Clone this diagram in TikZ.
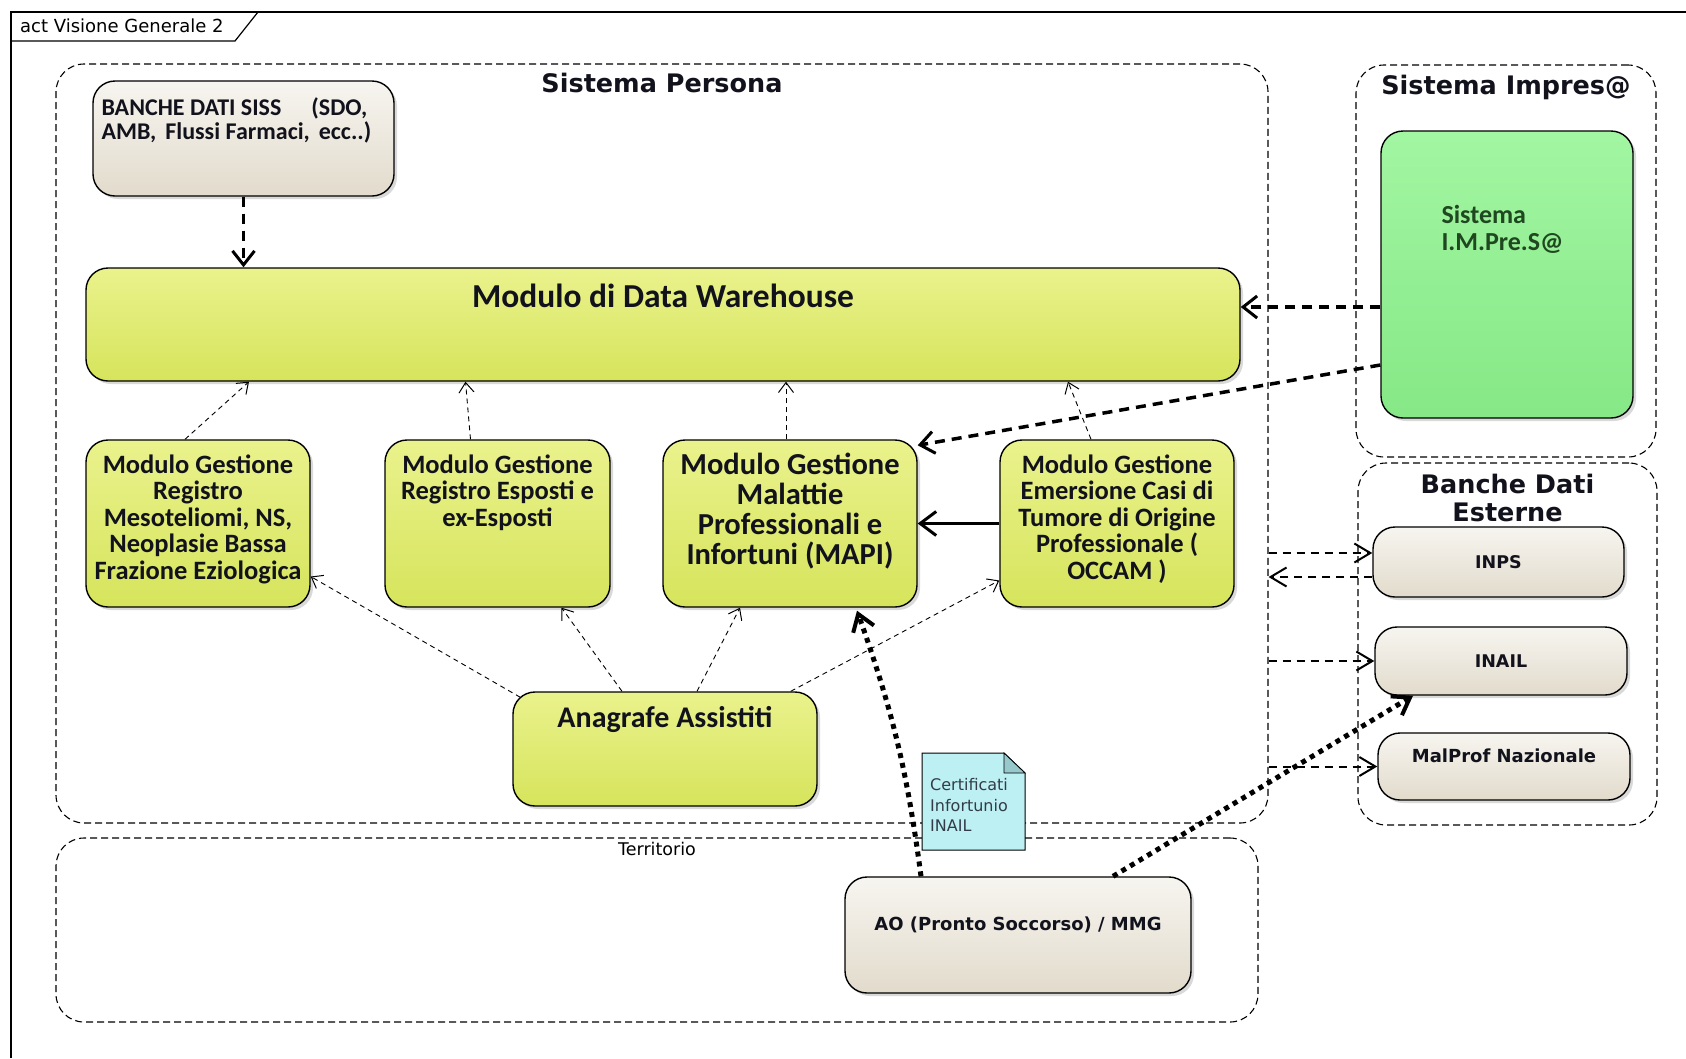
\documentclass[tikz,border=0pt]{standalone}
\usepackage{fontspec}
\setmainfont{DejaVu Sans}
\newfontfamily\calibri{Carlito}
\usepackage{tikz}
\usetikzlibrary{positioning,fit,shadows,arrows.meta,calc}

\definecolor{giallo}{RGB}{214,228,92}
\definecolor{giallochiaro}{RGB}{234,242,140}
\definecolor{beige}{RGB}{226,219,204}
\definecolor{beigechiaro}{RGB}{247,245,240}
\definecolor{verde}{RGB}{134,232,134}
\definecolor{verdechiaro}{RGB}{162,246,162}
\definecolor{azzurro}{RGB}{188,240,242}
\definecolor{azzurroscuro}{RGB}{150,200,204}
\definecolor{verdescuro}{RGB}{32,72,32}
\definecolor{inchiostro}{RGB}{18,18,28}
\definecolor{notatesto}{RGB}{50,60,72}

\tikzset{
  contenitore/.style={draw, line width=1.1pt, dash pattern=on 7pt off 4pt, rounded corners=28pt, inner sep=0pt},
  modulo/.style={draw, line width=1.4pt, rounded corners=22pt, inner sep=0pt,
    top color=giallochiaro, bottom color=giallo,
    drop shadow={shadow xshift=3pt, shadow yshift=-3pt, opacity=0.3}},
  banca/.style={modulo, top color=beigechiaro, bottom color=beige},
  sistema/.style={modulo, top color=verdechiaro, bottom color=verde},
  testomod/.style={font=\calibri\bfseries\fontsize{26.5}{26.6}\selectfont, text=inchiostro, align=center, inner sep=0pt},
  titolo/.style={font=\bfseries\fontsize{25.5}{28.5}\selectfont, text=inchiostro, align=center, inner sep=0pt},
  testobanca/.style={font=\bfseries\fontsize{17.5}{21}\selectfont, text=inchiostro, inner sep=0pt},
  dip/.style={line width=0.9pt, dash pattern=on 5pt off 4pt, -{Straight Barb[length=10pt,width=15pt,line width=1pt]}},
  flusso/.style={line width=3.5pt, dash pattern=on 10pt off 7pt, -{Straight Barb[length=14pt,width=22pt,line width=3pt]}},
  puntini/.style={line width=5pt, dash pattern=on 5pt off 5pt, -{Straight Barb[length=16pt,width=22pt,line width=4pt]}},
  scambio/.style={line width=2pt, dash pattern=on 8pt off 6pt, -{Straight Barb[length=16pt,width=19pt,line width=2pt]}},
  chiamata/.style={line width=3pt, -{Straight Barb[length=16pt,width=24pt,line width=3pt]}},
}

\begin{document}
\begin{tikzpicture}[x=1pt, y=-1pt]
  \useasboundingbox (0,0) rectangle (1686,1058);

  % Cornice
  \draw[line width=1.5pt] (11,1058) -- (11,12) -- (1686,12);
  \draw[line width=1.2pt] (11,41) -- (235,41) -- (258,12);
  \node[font=\fontsize{18}{20}\selectfont, anchor=west, inner sep=0pt] (cornice) at (20,26) {act Visione Generale 2};

  % Contenitori
  \node[contenitore, fit={(56,64) (1268,823)}] (persona) {};
  \node[titolo, below=9pt of persona.north] (titpersona) {Sistema Persona};
  \node[contenitore, fit={(1356,65) (1656,457)}] (impres) {};
  \node[titolo, below=10pt of impres.north] (titimpres) {Sistema Impres@};
  \node[contenitore, fit={(1358,463) (1657,825)}] (esterne) {};
  \node[titolo, below=11pt of esterne.north] (titesterne) {Banche Dati\\Esterne};
  \node[contenitore, fit={(56,838) (1258,1022)}] (territorio) {};
  \node[font=\fontsize{17.5}{20}\selectfont, inner sep=0pt, below=5pt of territorio.north] (titterritorio) {Territorio};

  % Sistema Persona
  \node[banca, fit={(93,81) (394,196)}] (siss) {};
  \node[testomod, font=\calibri\bfseries\fontsize{24}{24}\selectfont, align=left, anchor=north west] (sisst)
    at ([shift={(9pt,-17pt)}]siss.north west) {BANCHE DATI SISS\hspace{30pt}(SDO,\\AMB,\hspace{9pt}Flussi Farmaci,\hspace{9pt}ecc..)};
  \node[modulo, fit={(86,268) (1240,381)}] (dw) {};
  \node[testomod, font=\calibri\bfseries\fontsize{33.5}{34}\selectfont, below=16pt of dw.north] (dwt) {Modulo di Data Warehouse};

  \node[modulo, fit={(86,440) (310,607)}] (m1) {};
  \node[testomod, below=15pt of m1.north] (m1t) {Modulo Gestione\\Registro\\Mesoteliomi, NS,\\Neoplasie Bassa\\Frazione Eziologica};
  \node[modulo, fit={(385,440) (610,607)}] (m2) {};
  \node[testomod, below=15pt of m2.north] (m2t) {Modulo Gestione\\Registro Esposti e\\ex-Esposti};
  \node[modulo, fit={(663,440) (917,607)}] (mapi) {};
  \node[testomod, font=\calibri\bfseries\fontsize{30.5}{29.8}\selectfont, below=14pt of mapi.north] (mapit) {Modulo Gestione\\Malattie\\Professionali e\\Infortuni (MAPI)};
  \node[modulo, fit={(1000,440) (1234,607)}] (occam) {};
  \node[testomod, below=15pt of occam.north] (occamt) {Modulo Gestione\\Emersione Casi di\\Tumore di Origine\\Professionale (\\OCCAM )};
  \node[modulo, fit={(513,692) (817,806)}] (anag) {};
  \node[testomod, font=\calibri\bfseries\fontsize{30}{30}\selectfont, below=15pt of anag.north] (anagt) {Anagrafe Assistiti};

  % Sistema Impres@
  \node[sistema, fit={(1381,131) (1633,418)}] (imp) {};
  \node[testomod, font=\calibri\bfseries\fontsize{26}{27}\selectfont, text=verdescuro, align=left, anchor=north west] (impt)
    at ([shift={(61pt,-75pt)}]imp.north west) {Sistema\\I.M.Pre.S@};

  % Banche Dati Esterne
  \node[banca, fit={(1373,527) (1624,597)}] (inps) {};
  \node[testobanca] (inpst) at (inps) {INPS};
  \node[banca, fit={(1375,627) (1627,695)}] (inail) {};
  \node[testobanca] (inailt) at (inail) {INAIL};
  \node[banca, fit={(1378,733) (1630,800)}] (malprof) {};
  \node[testobanca, font=\bfseries\fontsize{18}{21}\selectfont, below=16pt of malprof.north] (malproft) {MalProf Nazionale};

  % Territorio
  \node[banca, fit={(845,877) (1191,993)}] (ao) {};
  \node[testobanca, font=\bfseries\fontsize{18}{21}\selectfont] (aot) at ([yshift=10pt]ao.center) {AO (Pronto Soccorso) / MMG};

  % Collegamenti
  \draw[flusso] (siss) -- (siss.south |- dw.north);
  \draw[dip] ($(m1.north)+(-13,0)$) -- ($(m1.north |- dw.south)+(51,0)$);
  \draw[dip] ($(m2.north)+(-27,0)$) -- ($(m2.north |- dw.south)+(-32,0)$);
  \draw[dip] ($(mapi.north)+(-4,0)$) -- ($(mapi.north |- dw.south)+(-4,0)$);
  \draw[dip] ($(occam.north)+(-26,0)$) -- ($(occam.north |- dw.south)+(-49,0)$);
  \draw[flusso] ($(imp.west)+(0,32.5)$) -- ($(dw.east)+(0,-17.5)$);
  \draw[flusso] ($(imp.west)+(0,90.5)$) -- ($(mapi.north east)+(0,6)$);
  \draw[chiamata] (occam.west) -- (mapi.east);
  \draw[dip] ($(anag.north west)+(8,6)$) -- ($(m1.east)+(0,53)$);
  \draw[dip] ($(anag.north)+(-43,0)$) -- ($(m2.south)+(64,0)$);
  \draw[dip] ($(anag.north)+(32,0)$) -- ($(mapi.south)+(-50,0)$);
  \draw[dip] ($(anag.north east)+(-27,0)$) -- ($(occam.west)+(0,57)$);
  \draw[puntini] ($(ao.north)+(-97,0)$) to[bend right=6] ($(mapi.south)+(67,3)$);
  \draw[puntini] ($(ao.north)+(95,0)$) -- ($(inail.south)+(-88,0)$);
  \draw[scambio] ($(persona.east |- inps.west)+(0,-9)$) -- ($(inps.west)+(0,-9)$);
  \draw[scambio] ($(inps.west)+(0,15)$) -- ($(persona.east |- inps.west)+(0,15)$);
  \draw[scambio] (persona.east |- inail.west) -- (inail.west);
  \draw[scambio] (persona.east |- malprof.west) -- (malprof.west);

  % Nota
  \draw[line width=1pt, fill=azzurro] (922,753) -- (1004,753) -- (1025,773) -- (1025,850) -- (922,850) -- cycle;
  \draw[line width=0.8pt, fill=azzurroscuro] (1004,753) -- (1004,773) -- (1025,773) -- cycle;
  \node[font=\fontsize{16}{20.7}\selectfont, text=notatesto, align=left, anchor=north west, inner sep=0pt] (nota)
    at (930,778) {Certificati\\Infortunio\\INAIL};
\end{tikzpicture}
\end{document}
